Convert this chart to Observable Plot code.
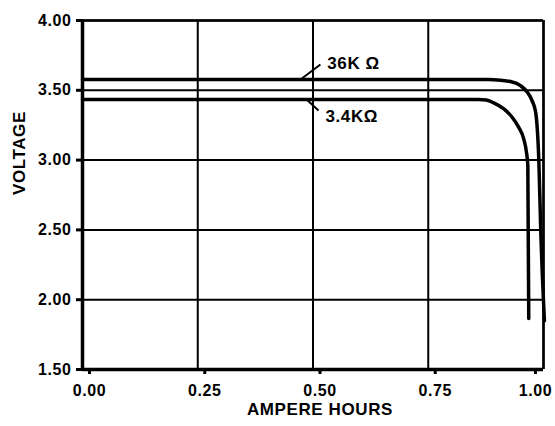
<!DOCTYPE html>
<html>
<head>
<meta charset="utf-8">
<script src="https://cdn.jsdelivr.net/npm/d3@7"></script>
<script src="https://cdn.jsdelivr.net/npm/@observablehq/plot@0.6"></script>
<style>
  html, body { margin: 0; padding: 0; background: #fff; }
</style>
</head>
<body>
<div id="chart"></div>
<script>
// Tick values
const xTicks = [0, 0.25, 0.5, 0.75, 1.0];
const yTicks = [1.5, 2.0, 2.5, 3.0, 3.5, 4.0];

// 36K ohm load curve
const x36 = [0, 0.88, 0.907, 0.928, 0.950, 0.965, 0.975, 0.983, 0.986, 0.990, 0.994, 1.002];
const v36 = [3.577, 3.577, 3.572, 3.563, 3.534, 3.486, 3.427, 3.343, 3.248, 2.985, 2.50, 1.85];

// 3.4K ohm load curve
const x34 = [0, 0.86, 0.876, 0.892, 0.914, 0.932, 0.946, 0.957, 0.963, 0.966, 0.968];
const v34 = [3.434, 3.434, 3.43, 3.41, 3.367, 3.307, 3.236, 3.153, 3.057, 2.961, 1.865];

// Curve labels and leader lines
const labelText = ["36K Ω", "3.4KΩ"];
const labelX = [0.531, 0.527];
const labelV = [3.69, 3.31];
const leadX1 = [0.473, 0.486];
const leadV1 = [3.577, 3.434];
const leadX2 = [0.516, 0.512];
const leadV2 = [3.685, 3.355];

const c36 = x36.map((x, i) => ({x, v: v36[i]}));
const c34 = x34.map((x, i) => ({x, v: v34[i]}));
const labels = labelText.map((t, i) => ({t, x: labelX[i], v: labelV[i]}));
const leads = leadX1.map((x1, i) => ({x1, y1: leadV1[i], x2: leadX2[i], y2: leadV2[i]}));

const chart = Plot.plot({
  width: 555,
  height: 426,
  marginLeft: 82,
  marginRight: 12,
  marginTop: 20,
  marginBottom: 57,
  style: {fontFamily: "'Liberation Sans', Arial, sans-serif", fontWeight: "bold", fontSize: "16px", letterSpacing: "0.6px", background: "#fff", color: "#000"},
  x: {domain: [0, 1]},
  y: {domain: [1.5, 4.0]},
  marks: [
    Plot.ruleX(xTicks, {stroke: "#000", strokeWidth: 2}),
    Plot.ruleY(yTicks, {stroke: "#000", strokeWidth: 2}),
    Plot.ruleY([4.0], {stroke: "#000", strokeWidth: 2.5}),
    Plot.ruleX([1.0], {stroke: "#000", strokeWidth: 2.5}),
    Plot.ruleX([0], {stroke: "#000", strokeWidth: 3.5}),
    Plot.ruleY([1.5], {stroke: "#000", strokeWidth: 3.5}),
    Plot.axisX({ticks: xTicks.slice(0, 4), tickFormat: d3.format(".2f"), tickSize: 5, tickPadding: 10, strokeWidth: 3, label: null, fontSize: 16, dx: 7}),
    Plot.axisX({ticks: xTicks.slice(4), tickFormat: d3.format(".2f"), tickSize: 5, tickPadding: 10, strokeWidth: 3, label: null, fontSize: 16, dx: -8}),
    Plot.axisY({ticks: yTicks, tickFormat: d3.format(".2f"), tickSize: 6, tickPadding: 5, strokeWidth: 3, label: null, fontSize: 16}),
    Plot.line(c36, {x: "x", y: "v", stroke: "#000", strokeWidth: 3.5, curve: "monotone-x"}),
    Plot.line(c34, {x: "x", y: "v", stroke: "#000", strokeWidth: 3.5, curve: "monotone-x"}),
    Plot.link(leads, {x1: "x1", y1: "y1", x2: "x2", y2: "y2", stroke: "#000", strokeWidth: 2}),
    Plot.text(labels, {x: "x", y: "v", text: "t", textAnchor: "start", fontSize: 17, fontWeight: "bold", fill: "#000"}),
    Plot.text(["VOLTAGE"], {frameAnchor: "left", dx: -63, rotate: -90, fontSize: 17, fontWeight: "bold", fill: "#000"}),
    Plot.text(["AMPERE HOURS"], {frameAnchor: "bottom", dy: 45, dx: 7, fontSize: 17, fontWeight: "bold", fill: "#000"})
  ]
});
document.getElementById("chart").appendChild(chart);
</script>
</body>
</html>
